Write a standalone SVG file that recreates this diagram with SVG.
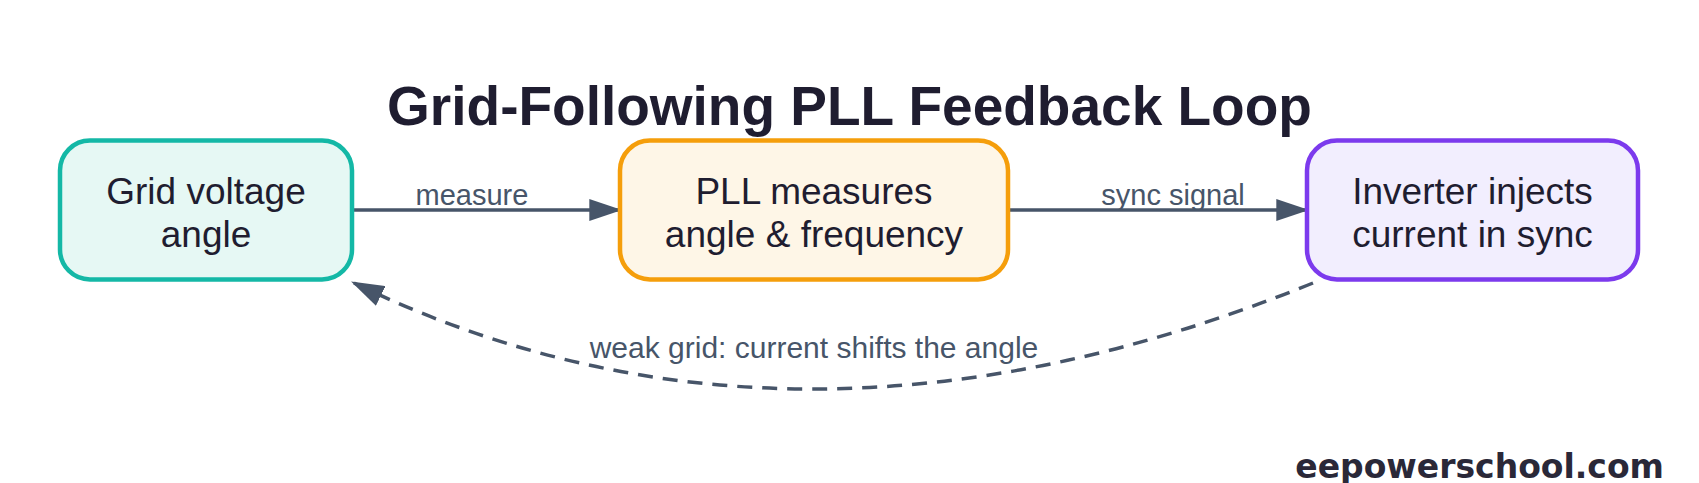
<svg xmlns="http://www.w3.org/2000/svg" width="1699" height="483" viewBox="0 0 1699 483">
<defs>
<style>
.node rect{stroke-width:4.5}
.ntext{font-family:"Liberation Sans",Arial,sans-serif;font-size:37px;fill:#1f1d30;text-anchor:middle}
.elabel{font-family:"Liberation Sans",Arial,sans-serif;font-size:29px;fill:#475569;text-anchor:middle}
.edge{stroke:#475569;stroke-width:3.5;fill:none}
</style>
<marker id="ah" viewBox="0 0 10 10" refX="9" refY="5" markerUnits="userSpaceOnUse" markerWidth="33" markerHeight="22" orient="auto" preserveAspectRatio="none">
<path d="M0,0 L10,5 L0,10 Z" fill="#475569"/>
</marker>
</defs>
<rect width="1699" height="483" fill="#ffffff"/>
<text x="849.5" y="125" font-family="Liberation Sans,Arial,sans-serif" font-weight="bold" font-size="55" fill="#1f1d30" text-anchor="middle">Grid-Following PLL Feedback Loop</text>
<g id="connectors">
<line class="edge" x1="352" y1="210" x2="619" y2="210" marker-end="url(#ah)"/>
<text class="elabel" x="472" y="205">measure</text>
<line class="edge" x1="1008" y1="210" x2="1306" y2="210" marker-end="url(#ah)"/>
<text class="elabel" x="1173" y="205">sync signal</text>
<path class="edge" d="M1313,283 Q791,495 354,283" stroke-dasharray="15,10" marker-end="url(#ah)"/>
<text class="elabel" x="814" y="358" style="font-size:30px">weak grid: current shifts the angle</text>
</g>
<g id="node-grid" class="node">
<rect x="60" y="140.5" width="292" height="139" rx="30" fill="#e6f8f4" stroke="#14b8a6"/>
<text class="ntext" x="206" y="204">Grid voltage</text>
<text class="ntext" x="206" y="247">angle</text>
</g>
<g id="node-pll" class="node">
<rect x="620" y="140.5" width="388" height="139" rx="30" fill="#fef6e7" stroke="#f59e0b"/>
<text class="ntext" x="814" y="204">PLL measures</text>
<text class="ntext" x="814" y="247">angle &amp; frequency</text>
</g>
<g id="node-inverter" class="node">
<rect x="1307" y="140.5" width="331" height="139" rx="30" fill="#f2eefe" stroke="#7c3aed"/>
<text class="ntext" x="1472.5" y="204">Inverter injects</text>
<text class="ntext" x="1472.5" y="247">current in sync</text>
</g>
<text x="1664" y="478" font-family="DejaVu Sans,sans-serif" font-weight="bold" font-size="33" fill="#2a2838" text-anchor="end">eepowerschool.com</text>
</svg>
